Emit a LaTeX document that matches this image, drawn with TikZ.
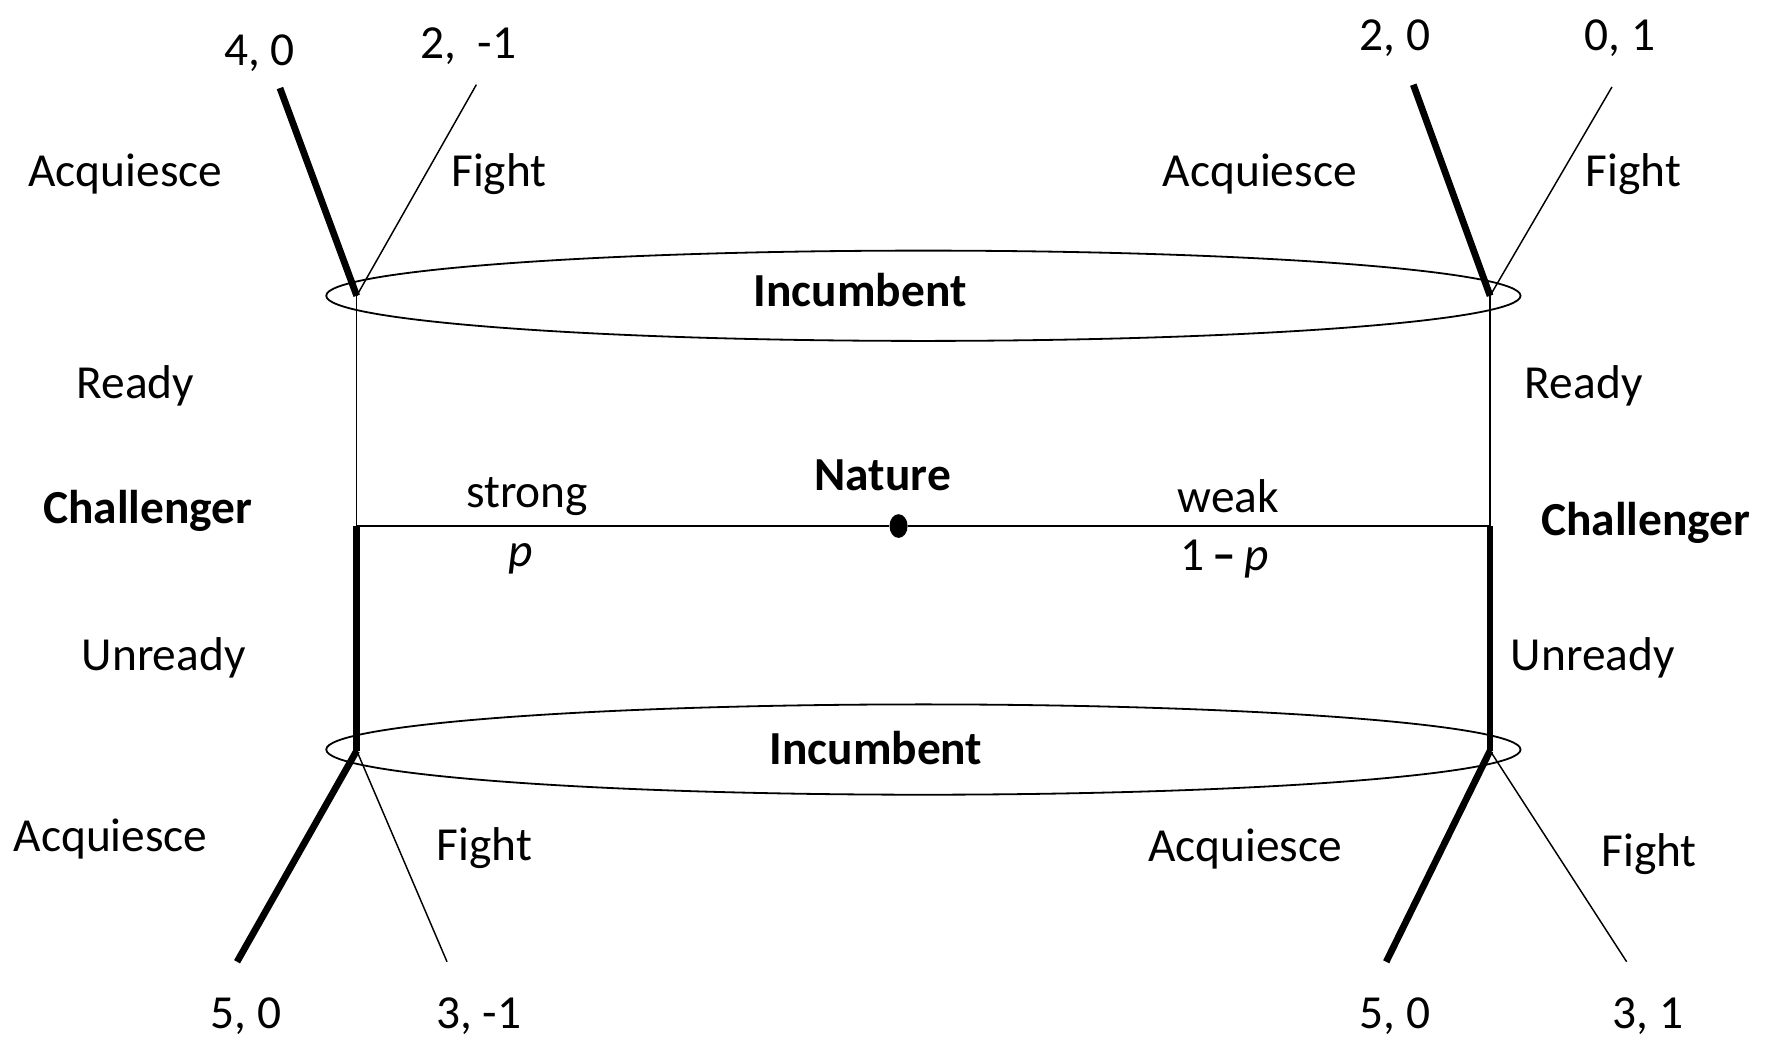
\documentclass[tikz,border=0pt]{standalone}
\usepackage{fontspec}
\setmainfont{Carlito}
\usetikzlibrary{shapes.geometric}
\begin{document}
\begin{tikzpicture}[x=1pt,y=-1pt,
  lbl/.style={font=\fontsize{42}{50}\selectfont, inner sep=0pt, yshift=-3pt},
  player/.style={lbl, font=\fontsize{42}{50}\selectfont\bfseries},
  thinedge/.style={line width=1.3pt},
  thickedge/.style={line width=6pt},
  infoset/.style={draw, line width=1.6pt, ellipse, minimum width=1058pt, minimum height=80pt, inner sep=0pt}]
\useasboundingbox (0,0) rectangle (1568,921);

% information sets of the incumbent
\node[infoset] (setTop) at (818,262) {};
\node[infoset] (setBot) at (818,664) {};

% decision points
\coordinate (tl) at (316,262);
\coordinate (tr) at (1320,262);
\coordinate (cl) at (316,466);
\coordinate (cr) at (1320,466);
\coordinate (bl) at (316,665);
\coordinate (br) at (1320,665);
\node[fill=black, ellipse, minimum width=16pt, minimum height=21pt, inner sep=0pt] (nature) at (796,466) {};

% terminal points
\coordinate (tlA) at (248,78);
\coordinate (tlF) at (422,75);
\coordinate (trA) at (1252,75);
\coordinate (trF) at (1428,77);
\coordinate (blA) at (210,852);
\coordinate (blF) at (396,852);
\coordinate (brA) at (1228,852);
\coordinate (brF) at (1441,852);

% nature's move
\draw[thinedge] (cl) -- (nature) -- (cr);
% challenger's moves
\draw[thinedge] (cl) -- (tl);
\draw[thinedge] (cr) -- (tr);
\draw[thickedge] (cl) -- (bl);
\draw[thickedge] (cr) -- (br);
% incumbent's moves
\draw[thickedge] (tl) -- (tlA);
\draw[thinedge] (tl) -- (tlF);
\draw[thickedge] (tr) -- (trA);
\draw[thinedge] (tr) -- (trF);
\draw[thickedge] (bl) -- (blA);
\draw[thinedge] (bl) -- (blF);
\draw[thickedge] (br) -- (brA);
\draw[thinedge] (br) -- (brF);

% player labels
\node[player] (incTop) at (762,254) {Incumbent};
\node[player] (incBot) at (776,660) {Incumbent};
\node[player] (natLbl) at (782,418) {Nature};
\node[player] (chL) at (131,450) {Challenger};
\node[player] (chR) at (1458,460) {Challenger};

% action labels
\node[lbl] (readyL) at (120,339) {Ready};
\node[lbl] (unreadyL) at (145,580) {Unready};
\node[lbl] (readyR) at (1403,339) {Ready};
\node[lbl] (unreadyR) at (1411,580) {Unready};
\node[lbl] (strong) at (467,437) {strong};
\node[lbl] (prob) at (461,492) {\textit{p}};
\node[lbl] (weak) at (1088,437) {weak};
\node[lbl] (probW) at (1085,492) {1\,\textbf{–}\,\textit{p}};

\node[lbl] (aqTL) at (111,151) {Acquiesce};
\node[lbl] (fTL) at (442,151) {Fight};
\node[lbl] (aqTR) at (1116,151) {Acquiesce};
\node[lbl] (fTR) at (1447,151) {Fight};
\node[lbl] (aqBL) at (98,740) {Acquiesce};
\node[lbl] (fBL) at (429,748) {Fight};
\node[lbl] (aqBR) at (1103,749) {Acquiesce};
\node[lbl] (fBR) at (1461,754) {Fight};

% payoffs
\node[lbl] (pTLA) at (230,44) {4, 0};
\node[lbl] (pTLF) at (415,38) {2,\ \ -1};
\node[lbl] (pTRA) at (1236,31) {2, 0};
\node[lbl] (pTRF) at (1435,31) {0, 1};
\node[lbl] (pBLA) at (218,897) {5, 0};
\node[lbl] (pBLF) at (424,897) {3, -1};
\node[lbl] (pBRA) at (1236,897) {5, 0};
\node[lbl] (pBRF) at (1460,897) {3, 1};
\end{tikzpicture}
\end{document}
